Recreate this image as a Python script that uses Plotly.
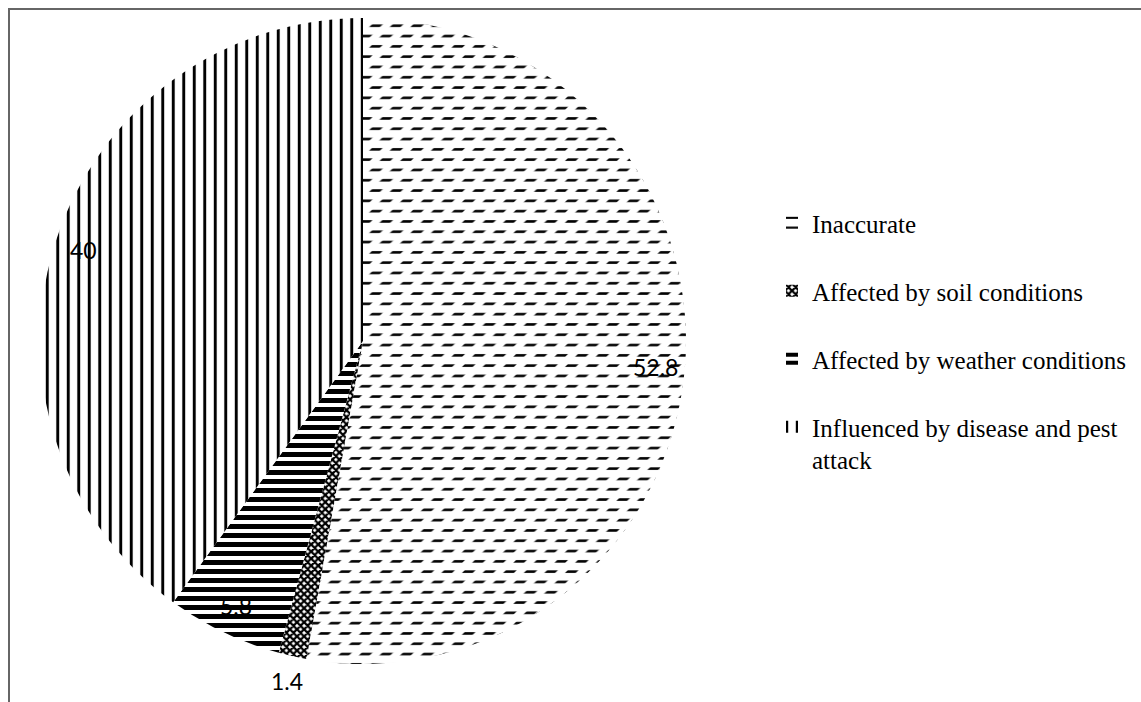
import math
import plotly.graph_objects as go

# Survey responses (percent of respondents)
categories = [
    "Inaccurate",
    "Affected by soil conditions",
    "Affected by weather conditions",
    "Influenced by disease and pest<br>attack",
]
shares = [52.8, 1.4, 5.8, 40]
value_labels = ["52.8", "1.4", "5.8", "40"]

W, H = 1141, 702

# pie placement (paper fractions)
dom_x = [40 / W, 686 / W]
dom_y = [1 - 664 / H, 1 - 18 / H]

# fill patterns for each slice
pat_shape = ["-", "x", "-", "|"]
pat_size = [10.3, 5, 9, 10.5]
pat_solid = [0.25, 0.7, 0.55, 0.28]

fig = go.Figure()

# legend entries get an extra blank line so the rows are spread out
legend_names = [c if "<br>" in c else c + "<br>\u00a0" for c in categories]

fig.add_trace(go.Pie(
    labels=legend_names,
    values=shares,
    sort=False,
    direction="clockwise",
    rotation=0,
    textinfo="none",
    hoverinfo="label+value",
    domain=dict(x=dom_x, y=dom_y),
    marker=dict(
        colors=["black"] * 4,
        line=dict(width=0),
        pattern=dict(shape=pat_shape, size=pat_size, solidity=pat_solid,
                     fgcolor="black", bgcolor="white", fillmode="replace"),
    ),
))

# white diagonal stripes over the first slice break its lines into staggered dashes
clear = "rgba(0,0,0,0)"
cut_colors = ["white", clear, clear, clear]
fig.add_trace(go.Pie(
    labels=legend_names,
    values=shares,
    sort=False,
    direction="clockwise",
    rotation=0,
    textinfo="none",
    hoverinfo="skip",
    showlegend=False,
    domain=dict(x=dom_x, y=dom_y),
    marker=dict(
        colors=cut_colors,
        line=dict(width=0),
        pattern=dict(shape=["/"] * 4, size=10.3 * math.sqrt(2), solidity=0.48,
                     fgcolor=cut_colors, bgcolor=clear, fillmode="replace"),
    ),
))

# value labels placed along each slice's mid-angle
cx = (dom_x[0] + dom_x[1]) / 2 * W
cy = (1 - (dom_y[0] + dom_y[1]) / 2) * H
radius = min((dom_x[1] - dom_x[0]) * W, (dom_y[1] - dom_y[0]) * H) / 2
total = sum(shares)
annotations = []
cum = 0.0
for v, txt in zip(shares, value_labels):
    mid = (cum + v / 2) / total * 2 * math.pi
    cum += v
    k = 1.08 if v / total < 0.03 else 0.91
    px = cx + math.sin(mid) * radius * k
    py = cy - math.cos(mid) * radius * k
    annotations.append(dict(
        x=px / W, y=1 - py / H, xref="paper", yref="paper",
        text=txt, showarrow=False, xanchor="center", yanchor="middle",
        font=dict(family="Lato", size=23, color="black"),
    ))

fig.update_layout(
    width=W, height=H,
    margin=dict(l=0, r=0, t=0, b=0),
    paper_bgcolor="white",
    plot_bgcolor="white",
    annotations=annotations,
    legend=dict(
        x=(812 - 40) / W, xanchor="left",
        y=1 - 200 / H, yanchor="top",
        font=dict(family="Liberation Serif", size=25, color="black"),
        valign="top",
        bgcolor="rgba(0,0,0,0)",
        traceorder="normal",
    ),
    shapes=[dict(
        type="rect", xref="paper", yref="paper",
        x0=9 / W, y0=1 - 9 / H, x1=1.05, y1=-0.05,
        line=dict(color="#666666", width=2), fillcolor="rgba(0,0,0,0)",
    )],
)

fig.write_html("out.html")
